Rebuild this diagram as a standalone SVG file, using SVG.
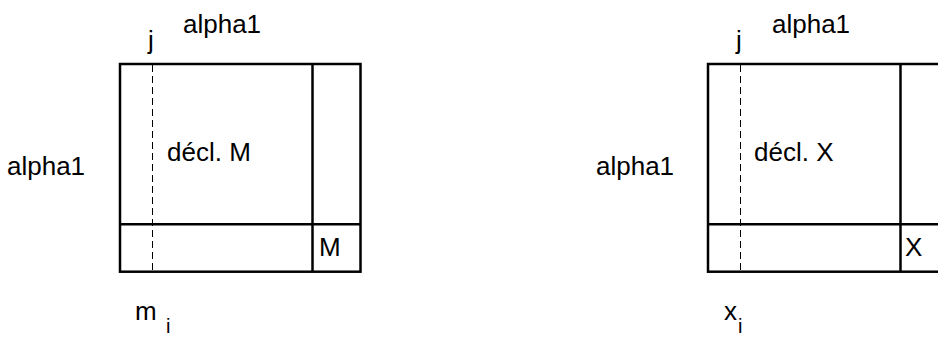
<svg xmlns="http://www.w3.org/2000/svg" width="938" height="337" viewBox="0 0 938 337">
<style>
text{font-family:"Liberation Sans",Arial,sans-serif;font-size:26px;fill:#000}
text.sub{font-size:20px}
.box{fill:none;stroke:#000;stroke-width:2.5}
.dash{stroke:#000;stroke-width:1;stroke-dasharray:7,4}
</style>
<rect width="938" height="337" fill="#fff"/>
<g id="matrixM">
<rect class="box" x="120" y="64" width="240.5" height="207.7"/>
<line class="box" x1="312.5" y1="64" x2="312.5" y2="271.7"/>
<line class="box" x1="120" y1="224.3" x2="360.5" y2="224.3"/>
<line class="dash" x1="152.5" y1="65" x2="152.5" y2="271"/>
<text x="167" y="161">décl. M</text>
<text x="319" y="256">M</text>
</g>
<g id="labelsM">
<text x="7" y="175">alpha1</text>
<text x="183" y="33">alpha1</text>
<text x="148" y="49">j</text>
<text x="135" y="320">m</text>
<text class="sub" x="166" y="333">i</text>
</g>
<g id="matrixX">
<rect class="box" x="708" y="64" width="240.5" height="207.7"/>
<line class="box" x1="900.5" y1="64" x2="900.5" y2="271.7"/>
<line class="box" x1="708" y1="224.3" x2="948" y2="224.3"/>
<line class="dash" x1="740.5" y1="65" x2="740.5" y2="271"/>
<text x="754" y="161">décl. X</text>
<text x="905" y="256">X</text>
</g>
<g id="labelsX">
<text x="596" y="175">alpha1</text>
<text x="772" y="33">alpha1</text>
<text x="736" y="49">j</text>
<text x="724" y="320">x</text>
<text class="sub" x="738" y="333">i</text>
</g>
<g id="connectors"></g>
</svg>
